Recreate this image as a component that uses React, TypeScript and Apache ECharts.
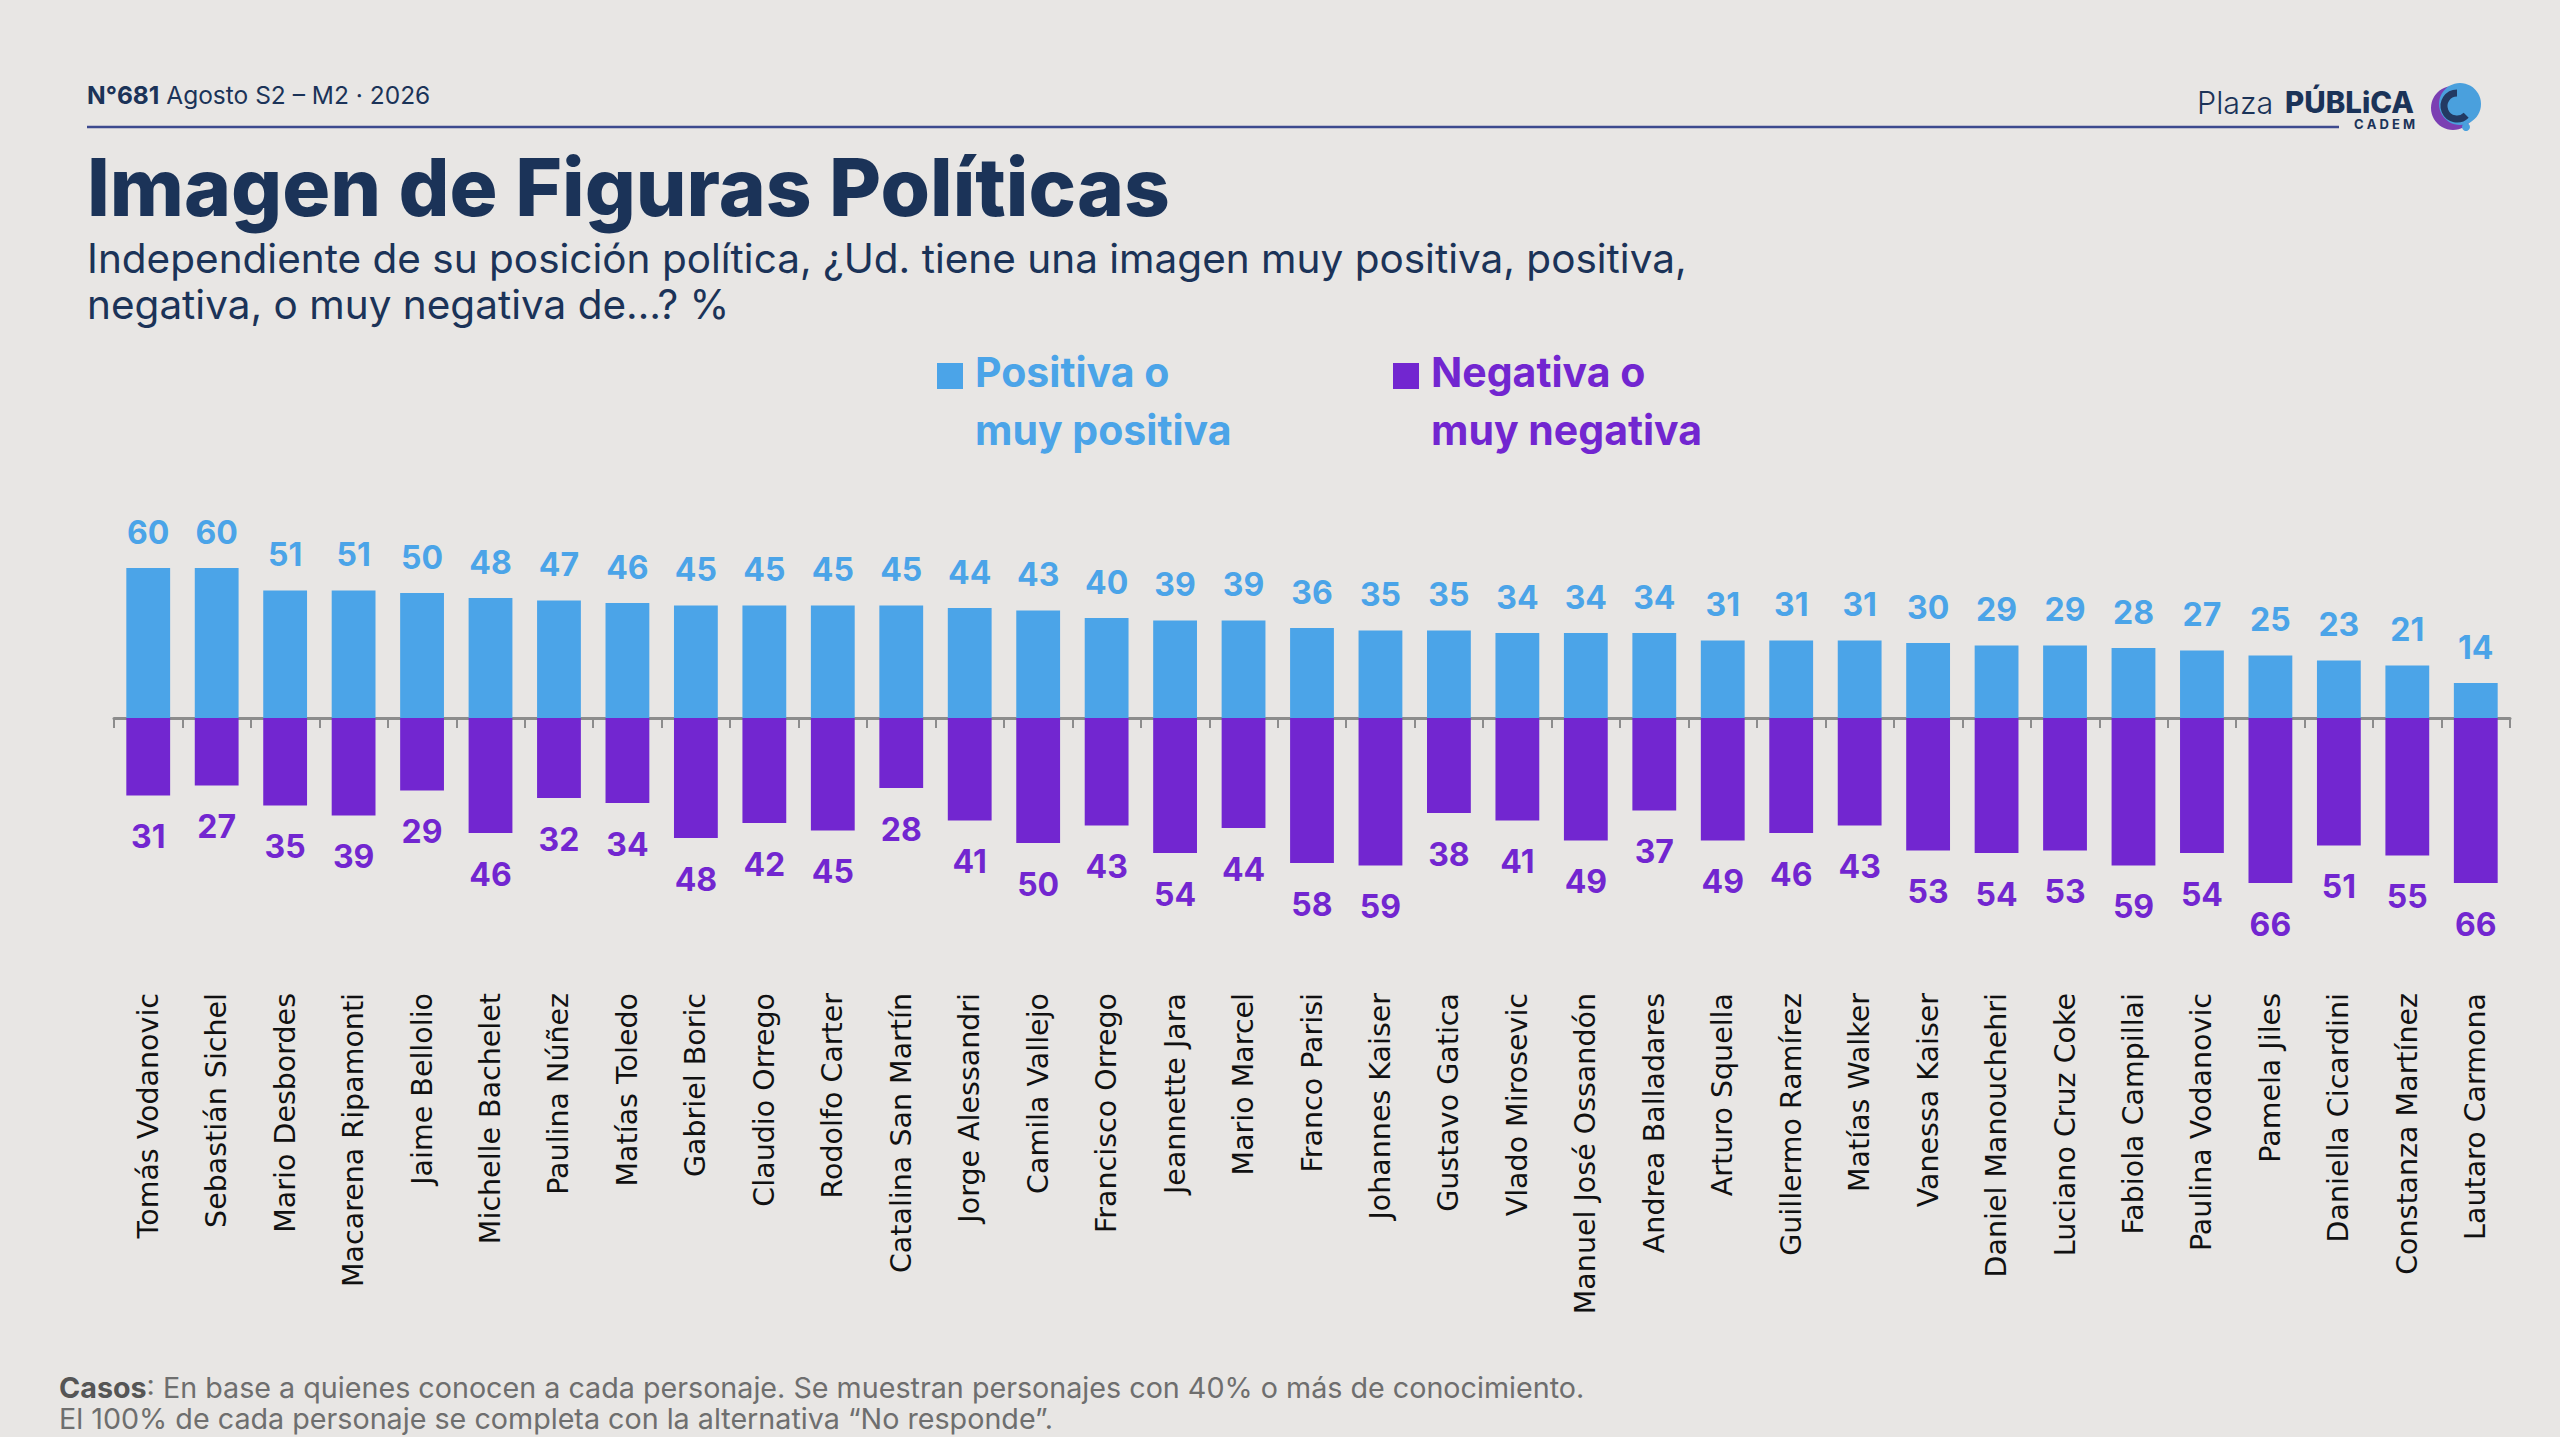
import React, { useEffect, useRef } from "react";
import * as echarts from "echarts";

const categories = [
  "Tomás Vodanovic", "Sebastián Sichel", "Mario Desbordes", "Macarena Ripamonti", "Jaime Bellolio",
  "Michelle Bachelet", "Paulina Núñez", "Matías Toledo", "Gabriel Boric", "Claudio Orrego",
  "Rodolfo Carter", "Catalina San Martín", "Jorge Alessandri", "Camila Vallejo", "Francisco Orrego",
  "Jeannette Jara", "Mario Marcel", "Franco Parisi", "Johannes Kaiser", "Gustavo Gatica",
  "Vlado Mirosevic", "Manuel José Ossandón", "Andrea Balladares", "Arturo Squella", "Guillermo Ramírez",
  "Matías Walker", "Vanessa Kaiser", "Daniel Manouchehri", "Luciano Cruz Coke", "Fabiola Campillai",
  "Paulina Vodanovic", "Pamela Jiles", "Daniella Cicardini", "Constanza Martínez", "Lautaro Carmona",
];

const positiva = [60, 60, 51, 51, 50, 48, 47, 46, 45, 45, 45, 45, 44, 43, 40, 39, 39, 36, 35, 35, 34, 34, 34, 31, 31, 31, 30, 29, 29, 28, 27, 25, 23, 21, 14];
const negativa = [31, 27, 35, 39, 29, 46, 32, 34, 48, 42, 45, 28, 41, 50, 43, 54, 44, 58, 59, 38, 41, 49, 37, 49, 46, 43, 53, 54, 53, 59, 54, 66, 51, 55, 66];

const BLUE = "#4ba4e8";
const PURPLE = "#7226d0";
const NAVY = "#1b3358";
const BG = "#e8e6e4";
const SANS = "Inter, 'Noto Sans', sans-serif";

export default function App() {
  const ref = useRef<HTMLDivElement>(null);
  useEffect(() => {
    if (!ref.current) return;
    const chart = echarts.init(ref.current, undefined, { renderer: "svg" });
    chart.setOption({
      animation: false,
      backgroundColor: BG,
      grid: { left: 114, right: 50, top: 468, bottom: 444, containLabel: false, outerBoundsMode: "none" },
      xAxis: {
        type: "category",
        data: categories,
        boundaryGap: true,
        axisLine: { show: true, onZero: true, lineStyle: { color: "#8c8c8c", width: 3 } },
        axisTick: { show: true, length: 10, alignWithLabel: false, lineStyle: { color: "#8c8c8c", width: 2 } },
        axisLabel: {
          show: true,
          interval: 0,
          rotate: 90,
          margin: 0,
          color: "#111111",
          fontFamily: "'DejaVu Sans', sans-serif",
          fontSize: 28.5,
        },
        splitLine: { show: false },
      },
      yAxis: {
        type: "value",
        min: -110,
        max: 100,
        show: false,
        splitLine: { show: false },
      },
      series: [
        {
          name: "Positiva o muy positiva",
          type: "bar",
          stack: "total",
          barWidth: "64%",
          data: positiva,
          itemStyle: { color: BLUE },
          label: {
            show: true,
            position: "top",
            distance: 20,
            color: BLUE,
            fontFamily: SANS,
            fontWeight: 700,
            fontSize: 32,
          },
        },
        {
          name: "Negativa o muy negativa",
          type: "bar",
          stack: "total",
          barWidth: "64%",
          data: negativa.map((v) => -v),
          itemStyle: { color: PURPLE },
          label: {
            show: true,
            position: "bottom",
            distance: 25,
            color: PURPLE,
            fontFamily: SANS,
            fontWeight: 700,
            fontSize: 32,
            formatter: (p: any) => String(Math.abs(p.value)),
          },
        },
      ],
      graphic: [
        {
          type: "text",
          left: 87,
          top: 82,
          style: {
            text: "{b|N°681} {r|Agosto S2 – M2 · 2026}",
            fontFamily: SANS,
            fontSize: 24.5,
            fill: NAVY,
            rich: {
              b: { fontFamily: SANS, fontSize: 24.5, fontWeight: 700, fill: NAVY, color: NAVY },
              r: { fontFamily: SANS, fontSize: 24.5, fontWeight: 400, fill: NAVY, color: NAVY },
            },
          },
        },
        {
          type: "line",
          shape: { x1: 87, y1: 127, x2: 2339, y2: 127 },
          style: { stroke: "#3d4a8e", lineWidth: 2.5 },
        },
        {
          type: "text",
          x: 87,
          y: 186,
          style: {
            text: "Imagen de Figuras Políticas",
            fontFamily: SANS,
            fontSize: 80,
            fontWeight: 800,
            fill: NAVY,
            verticalAlign: "middle",
          },
        },
        {
          type: "text",
          x: 87,
          y: 258,
          style: {
            text: "Independiente de su posición política, ¿Ud. tiene una imagen muy positiva, positiva,",
            fontFamily: SANS,
            fontSize: 40.5,
            fontWeight: 400,
            fill: NAVY,
            verticalAlign: "middle",
          },
        },
        {
          type: "text",
          x: 87,
          y: 304,
          style: {
            text: "negativa, o muy negativa de…? %",
            fontFamily: SANS,
            fontSize: 40.5,
            fontWeight: 400,
            fill: NAVY,
            verticalAlign: "middle",
          },
        },
        // legend
        { type: "rect", shape: { x: 937, y: 363, width: 26, height: 26 }, style: { fill: BLUE } },
        {
          type: "text",
          x: 975,
          y: 372,
          style: { text: "Positiva o", fontFamily: SANS, fontSize: 41, fontWeight: 700, fill: BLUE, verticalAlign: "middle" },
        },
        {
          type: "text",
          x: 975,
          y: 430,
          style: { text: "muy positiva", fontFamily: SANS, fontSize: 41, fontWeight: 700, fill: BLUE, verticalAlign: "middle" },
        },
        { type: "rect", shape: { x: 1393, y: 363, width: 26, height: 26 }, style: { fill: PURPLE } },
        {
          type: "text",
          x: 1431,
          y: 372,
          style: { text: "Negativa o", fontFamily: SANS, fontSize: 41, fontWeight: 700, fill: PURPLE, verticalAlign: "middle" },
        },
        {
          type: "text",
          x: 1431,
          y: 430,
          style: { text: "muy negativa", fontFamily: SANS, fontSize: 41, fontWeight: 700, fill: PURPLE, verticalAlign: "middle" },
        },
        // logo
        {
          type: "text",
          x: 2197,
          y: 102,
          style: { text: "Plaza", fontFamily: SANS, fontSize: 30.5, fontWeight: 300, fill: NAVY, verticalAlign: "middle" },
        },
        {
          type: "text",
          x: 2285,
          y: 102,
          style: { text: "PÚBLiCA", fontFamily: SANS, fontSize: 29.5, fontWeight: 800, fill: NAVY, verticalAlign: "middle" },
        },
        {
          type: "text",
          x: 2354,
          y: 124,
          style: { text: "C A D E M", fontFamily: SANS, fontSize: 13, fontWeight: 700, fill: NAVY, verticalAlign: "middle" },
        },
        { type: "circle", shape: { cx: 2453, cy: 108, r: 22 }, style: { fill: "#7b3fb3" } },
        { type: "circle", shape: { cx: 2460, cy: 104, r: 21 }, style: { fill: "#4aa0dd" } },
        { type: "circle", shape: { cx: 2466, cy: 127, r: 4 }, style: { fill: "#4aa0dd" } },
        {
          type: "arc",
          shape: { cx: 2457, cy: 106, r: 13, startAngle: -Math.PI / 2, endAngle: Math.PI / 4, clockwise: false },
          style: { stroke: "#233a63", lineWidth: 7, fill: null },
        },
        // footer
        {
          type: "text",
          x: 59,
          y: 1387,
          style: {
            text: "{b|Casos}{r|: En base a quienes conocen a cada personaje. Se muestran personajes con 40% o más de conocimiento.}",
            fontFamily: SANS,
            fontSize: 28.7,
            fill: "#6e6e6e",
            verticalAlign: "middle",
            rich: {
              b: { fontFamily: SANS, fontSize: 28.7, fontWeight: 700, fill: "#555555", color: "#555555" },
              r: { fontFamily: SANS, fontSize: 28.7, fontWeight: 400, fill: "#6e6e6e", color: "#6e6e6e" },
            },
          },
        },
        {
          type: "text",
          x: 59,
          y: 1418,
          style: {
            text: "El 100% de cada personaje se completa con la alternativa “No responde”.",
            fontFamily: SANS,
            fontSize: 28.7,
            fontWeight: 400,
            fill: "#6e6e6e",
            verticalAlign: "middle",
          },
        },
      ],
    });
    return () => chart.dispose();
  }, []);
  return <div ref={ref} style={{ position: "fixed", left: 0, top: 0, width: "100vw", height: "100vh" }} />;
}
